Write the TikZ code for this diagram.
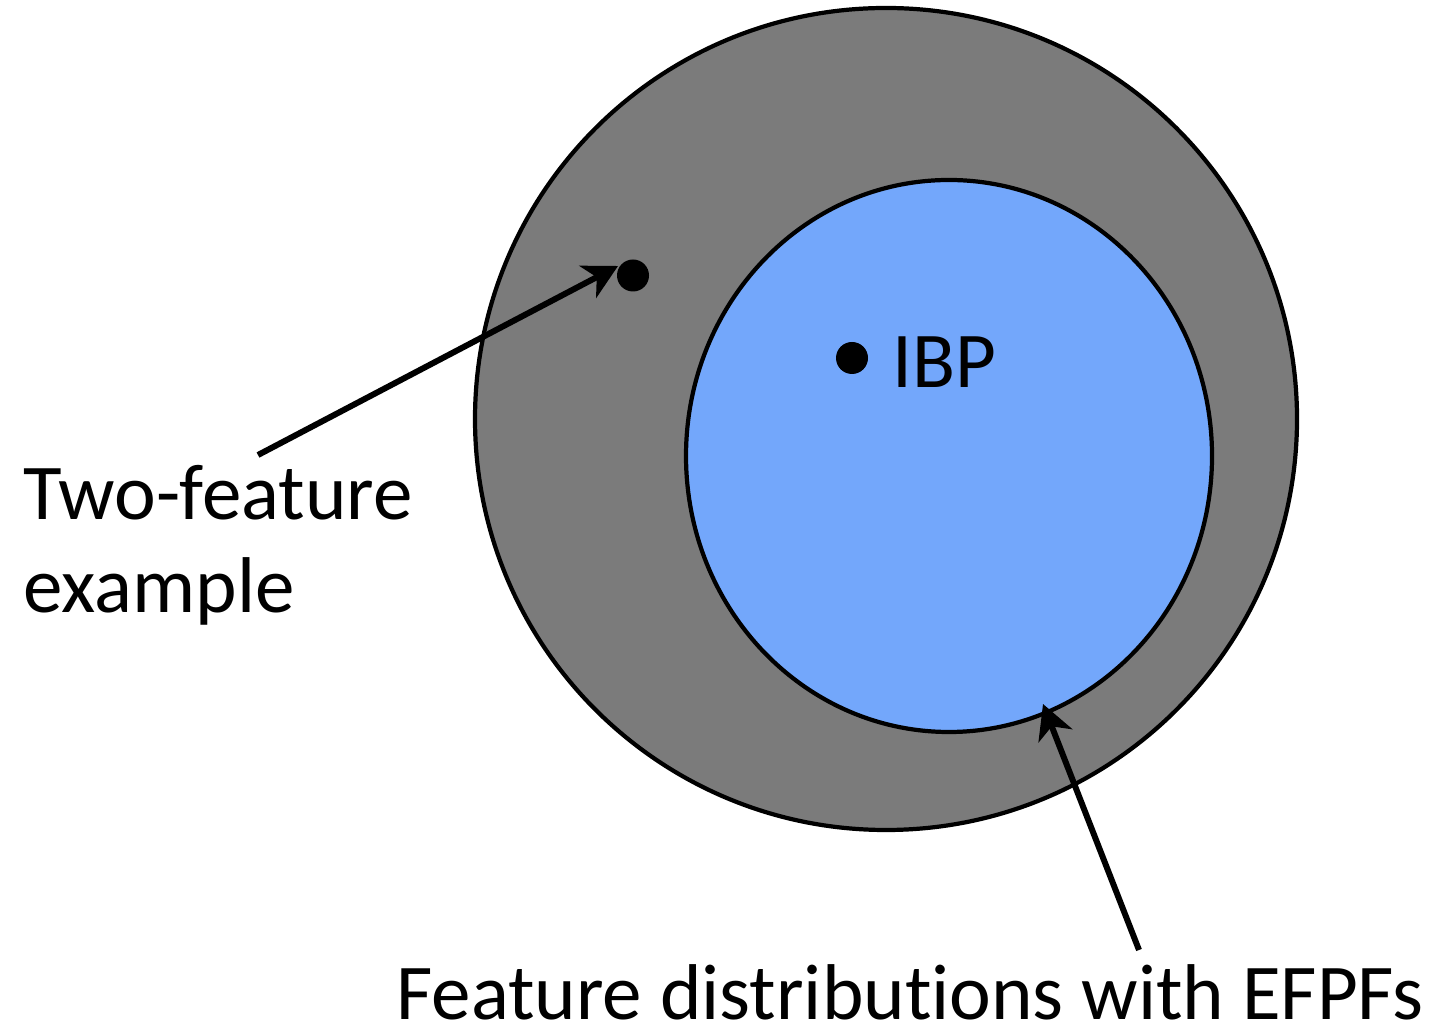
\documentclass[tikz,border=0pt]{standalone}
\usepackage{fontspec}
\setmainfont{Carlito}[Ligatures=NoCommon]
\usetikzlibrary{arrows.meta}
\definecolor{ringgray}{HTML}{7B7B7B}
\definecolor{ibpblue}{HTML}{73A7FB}

\begin{document}
\begin{tikzpicture}[>={Stealth[length=0.34cm, width=0.36cm, inset=0.1cm]},
    ring/.style={draw=black, line width=1.2pt},
    dot/.style={circle, fill=black, inner sep=0pt, minimum size=0.32cm},
    label/.style={inner sep=0pt, anchor=base west, align=left,
        font=\fontsize{22.5}{26.5}\selectfont},
    pointer/.style={->, line width=1.7pt}]
    \useasboundingbox (0,0) rectangle (14.47,-10.29);

    \draw[ring, fill=ringgray] (8.86,-4.19) circle (4.11);
    \draw[ring, fill=ibpblue] (9.49,-4.56) ellipse (2.63 and 2.76);

    \node[dot] (twodot) at (6.33,-2.755) {};
    \node[dot] (ibpdot) at (8.52,-3.58) {};
    \node[label] (ibp) at (8.92,-3.88) {IBP};

    \node[label] (twolabel) at (0.23,-6.13) {Two-feature\\example};
    \node[label] (efpflabel) at (3.96,-10.19) {Feature distributions with EFPFs};

    \coordinate (twostart) at (2.58,-4.55);
    \coordinate (twotip) at (6.18,-2.66);
    \coordinate (efpfstart) at (11.39,-9.50);
    \coordinate (efpftip) at (10.43,-7.04);

    \draw[pointer] (twostart) -- (twotip);
    \draw[pointer] (efpfstart) -- (efpftip);
\end{tikzpicture}
\end{document}
